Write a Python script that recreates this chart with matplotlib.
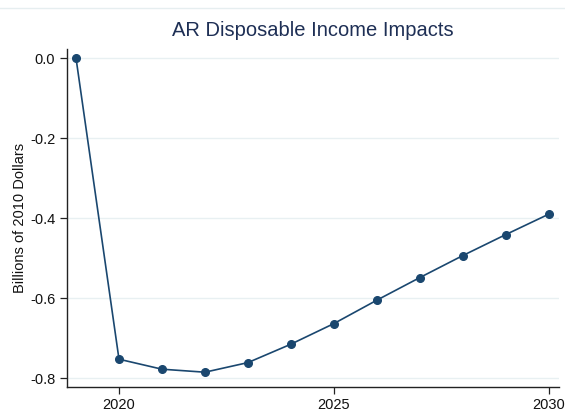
import matplotlib
matplotlib.use("Agg")
import matplotlib.pyplot as plt
from matplotlib.lines import Line2D

years = [2019, 2020, 2021, 2022, 2023, 2024, 2025, 2026, 2027, 2028, 2029, 2030]
values = [0.0, -0.7525, -0.7775, -0.785, -0.761, -0.715, -0.6635, -0.605, -0.5485, -0.4935, -0.441, -0.39]
yticks = [0.0, -0.2, -0.4, -0.6, -0.8]
ytick_labels = ["0.0", "-0.2", "-0.4", "-0.6", "-0.8"]
xticks = [2020, 2025, 2030]

plt.rcParams['font.family'] = ['Liberation Sans', 'DejaVu Sans']

fig = plt.figure(figsize=(5.65, 4.15), dpi=100)
ax = fig.add_axes([67/565, 1-387/415, (559-67)/565, (387-49)/415])

ax.plot(years, values, color="#1a476f", linewidth=1.2, marker="o", markersize=5.5, zorder=3)

ax.set_xlim(2018.79, 2030.24)
ax.set_ylim(-0.822, 0.023)
ax.set_yticks(yticks)
ax.set_yticklabels(ytick_labels)
ax.set_xticks(xticks)
ax.grid(axis="y", color="#e8f0f2", linewidth=1.0, zorder=0)
ax.set_axisbelow(True)

for s in ["top", "right"]:
    ax.spines[s].set_visible(False)
for s in ["left", "bottom"]:
    ax.spines[s].set_color("#222222")
    ax.spines[s].set_linewidth(1.0)

ax.tick_params(axis="both", direction="out", length=5, width=0.9, color="#222222", labelsize=10.5, labelcolor="#111111")
ax.tick_params(axis="x", pad=3)

ax.set_ylabel("Billions of 2010 Dollars", fontsize=10.5, color="#111111", labelpad=2)
ax.set_title("AR Disposable Income Impacts", fontsize=14.5, color="#1e2f55", pad=9)

fig.add_artist(Line2D([0, 1], [1-8/415, 1-8/415], transform=fig.transFigure, color="#e6eef0", linewidth=1.0))

fig.savefig("out.png", dpi=100, facecolor="white")
